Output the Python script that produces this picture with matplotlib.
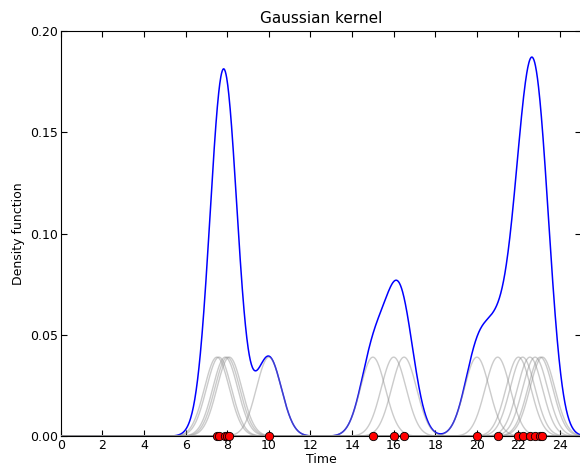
import matplotlib
matplotlib.use("Agg")
import matplotlib.pyplot as plt
import numpy as np

# event times
events = [7.5, 7.6, 7.9, 8.0, 8.1, 10.0,
          15.0, 16.0, 16.5,
          20.0, 21.0, 22.0, 22.2, 22.55, 22.8, 23.05, 23.15]
bandwidth = 0.6
kernel_peak = 0.039
x_ticks = [0, 2, 4, 6, 8, 10, 12, 14, 16, 18, 20, 22, 24]
y_ticks = [0.0, 0.05, 0.10, 0.15, 0.20]


def main():
    plt.rcParams["font.family"] = "DejaVu Sans"
    fig = plt.figure(figsize=(5.8, 4.68), dpi=100)
    ax = fig.add_axes([0.105, 0.068, 0.8965, 0.866])

    t = np.linspace(0, 25, 1500)
    kernels = [kernel_peak * np.exp(-(t - e) ** 2 / (2 * bandwidth ** 2)) for e in events]
    density = np.sum(kernels, axis=0)

    ax.plot(t, density, color="blue", linewidth=1.1, zorder=2)
    for k in kernels:
        ax.plot(t, k, color="0.55", alpha=0.45, linewidth=1.0, zorder=3)
    ax.plot(events, np.zeros(len(events)), "o", color="red", markeredgecolor="black",
            markeredgewidth=0.6, markersize=6, clip_on=False, zorder=10)

    ax.set_xlim(0, 25)
    ax.set_ylim(0, 0.2)
    ax.set_xticks(x_ticks)
    ax.set_yticks(y_ticks)
    ax.set_yticklabels([f"{v:.2f}" for v in y_ticks])
    ax.tick_params(direction="in", top=True, right=True, length=4, labelsize=9, pad=2)
    ax.set_xlabel("Time", fontsize=9, labelpad=1)
    ax.set_ylabel("Density function", fontsize=9)
    ax.set_title("Gaussian kernel", fontsize=11)

    fig.savefig("out.png", dpi=100)
    plt.close(fig)


if __name__ == "__main__":
    main()
